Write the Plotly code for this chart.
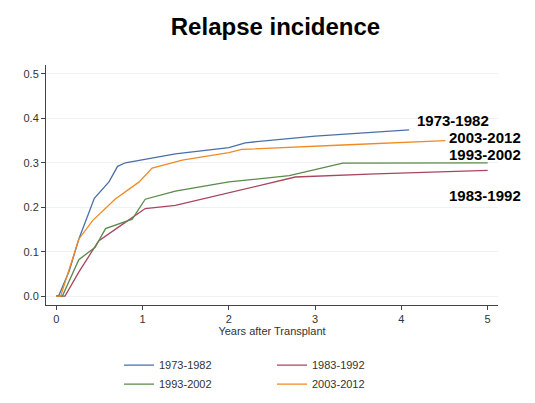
import plotly.graph_objects as go

names = ["1973-1982", "1983-1992", "1993-2002", "2003-2012"]
colors = ["#4a6fa5", "#a8465f", "#5a8a4a", "#f08a24"]
x_blue = [0, 0.03, 0.15, 0.26, 0.44, 0.61, 0.71, 0.80, 1.38, 2.0, 2.19, 3.0, 4.09]
y_blue = [0, 0.002, 0.057, 0.128, 0.22, 0.257, 0.292, 0.30, 0.32, 0.334, 0.345, 0.36, 0.374]
x_red = [0, 0.1, 0.26, 0.49, 0.77, 1.03, 1.38, 2.0, 2.77, 3.70, 5.0]
y_red = [0, 0.0, 0.054, 0.124, 0.162, 0.197, 0.204, 0.233, 0.268, 0.275, 0.283]
x_green = [0, 0.07, 0.26, 0.45, 0.57, 0.88, 1.03, 1.38, 2.0, 2.70, 3.32, 5.0]
y_green = [0, 0.0, 0.082, 0.11, 0.152, 0.173, 0.218, 0.236, 0.257, 0.271, 0.299, 0.30]
x_orange = [0, 0.05, 0.26, 0.42, 0.68, 0.96, 1.11, 1.46, 2.0, 2.15, 3.32, 4.51]
y_orange = [0, 0.0, 0.128, 0.17, 0.218, 0.257, 0.288, 0.306, 0.323, 0.33, 0.34, 0.35]
xs = [x_blue, x_red, x_green, x_orange]
ys = [y_blue, y_red, y_green, y_orange]
label_y = [0.395, 0.227, 0.319, 0.357]
label_x = [0.985, 1.055, 1.055, 1.055]

fig = go.Figure()
for n, c, x, y in zip(names, colors, xs, ys):
    fig.add_trace(go.Scatter(x=x, y=y, mode="lines", line=dict(color=c, width=1.3), name=n))
for n, lx, ly in zip(names, label_x, label_y):
    fig.add_annotation(x=lx, xref="paper", y=ly, text="<b>%s</b>" % n, showarrow=False, xanchor="right",
                       font=dict(family="Liberation Sans, Arial", size=15, color="black"))

fig.update_layout(
    width=535, height=403, paper_bgcolor="white", plot_bgcolor="white",
    margin=dict(l=38, r=45, t=57, b=85),
    title=dict(text="<b>Relapse incidence</b>", x=0.5, y=0.975, xanchor="center", yanchor="top",
               font=dict(family="Liberation Sans, Arial", size=24, color="black")),
    font=dict(family="Liberation Sans, Arial", size=11, color="#333"),
    xaxis=dict(range=[-0.12, 5.12], tickvals=[0, 1, 2, 3, 4, 5], showgrid=False, showline=True,
               linecolor="#444", ticks="outside", ticklen=4, zeroline=False,
               title=dict(text="Years after Transplant", font=dict(size=11), standoff=2)),
    yaxis=dict(range=[-0.02, 0.52], tickvals=[0, 0.1, 0.2, 0.3, 0.4, 0.5], tickformat=".1f",
               showgrid=True, gridcolor="#eef2f4", showline=True, linecolor="#444", ticks="outside",
               ticklen=4, zeroline=False),
    legend=dict(orientation="h", x=0.5, xanchor="center", y=-0.19, yanchor="top",
                entrywidth=108, font=dict(size=11), traceorder="normal", tracegroupgap=0),
    showlegend=True,
)
fig.write_html("out.html")
